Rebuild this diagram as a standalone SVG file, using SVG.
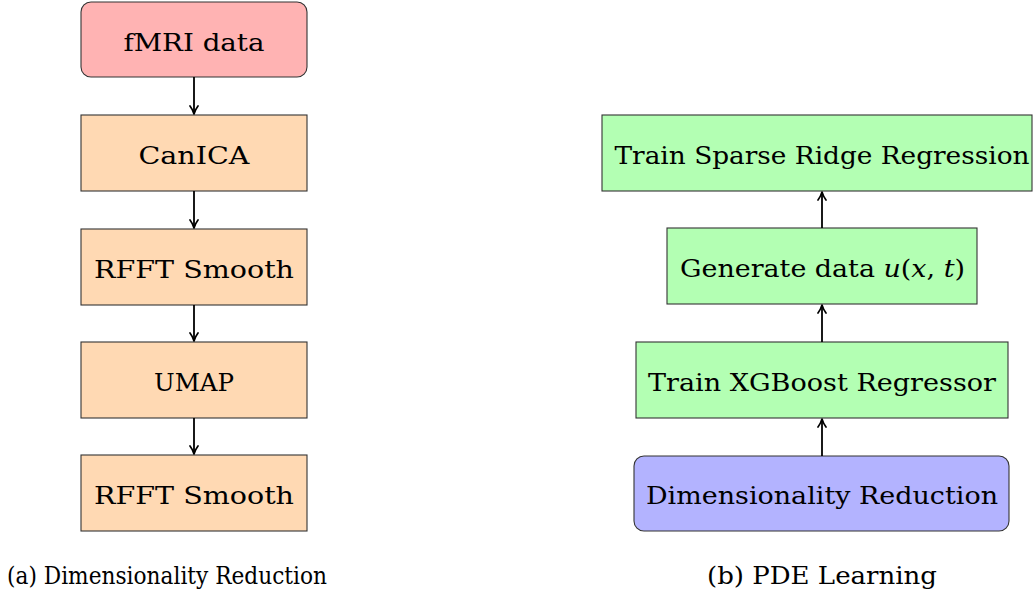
<svg xmlns="http://www.w3.org/2000/svg" width="1035" height="597" viewBox="0 0 1035 597">
<style>
text{font-family:'DejaVu Serif','Liberation Serif','Noto Serif',serif;font-size:24px;fill:#000}
.box{stroke:#333;stroke-width:1.1}
.red{fill:#FFB3B3}.org{fill:#FFD9B3}.grn{fill:#B3FFB3}.blu{fill:#B3B3FF}
.c line{stroke:#000;stroke-width:1.8;fill:none}
.m{font-style:italic}
</style>
<defs>
<marker id="ah" viewBox="0 0 10 10" refX="9" refY="5" markerWidth="10" markerHeight="10" markerUnits="userSpaceOnUse" orient="auto">
<path d="M1,1 Q5,4 9,5 Q5,6 1,9" fill="none" stroke="#000" stroke-width="1.7" stroke-linecap="round" stroke-linejoin="round"/>
</marker>
</defs>
<g id="fmri"><rect class="box red" x="81" y="2" width="226" height="75" rx="10"/><text x="194" y="51" text-anchor="middle" textLength="141" lengthAdjust="spacingAndGlyphs">fMRI data</text></g>
<g id="canica"><rect class="box org" x="81" y="115" width="226" height="76"/><text x="194" y="164" text-anchor="middle" textLength="111" lengthAdjust="spacingAndGlyphs">CanICA</text></g>
<g id="rfft1"><rect class="box org" x="81" y="229" width="226" height="76"/><text x="194" y="278" text-anchor="middle" textLength="200" lengthAdjust="spacingAndGlyphs">RFFT Smooth</text></g>
<g id="umap"><rect class="box org" x="81" y="342" width="226" height="76"/><text x="194" y="391" text-anchor="middle" textLength="80" lengthAdjust="spacingAndGlyphs">UMAP</text></g>
<g id="rfft2"><rect class="box org" x="81" y="455" width="226" height="76"/><text x="194" y="504" text-anchor="middle" textLength="200" lengthAdjust="spacingAndGlyphs">RFFT Smooth</text></g>
<g id="capA"><text x="7" y="584" textLength="320" lengthAdjust="spacingAndGlyphs">(a) Dimensionality Reduction</text></g>
<g id="sparse"><rect class="box grn" x="602" y="115" width="430" height="76"/><text x="822" y="164" text-anchor="middle" textLength="415" lengthAdjust="spacingAndGlyphs">Train Sparse Ridge Regression</text></g>
<g id="gen"><rect class="box grn" x="667" y="228" width="310" height="76"/><text x="680" y="277" textLength="285" lengthAdjust="spacingAndGlyphs">Generate data <tspan class="m">u</tspan>(<tspan class="m">x</tspan>, <tspan class="m">t</tspan>)</text></g>
<g id="xgb"><rect class="box grn" x="636" y="342" width="372" height="76"/><text x="822" y="391" text-anchor="middle" textLength="348" lengthAdjust="spacingAndGlyphs">Train XGBoost Regressor</text></g>
<g id="dimred"><rect class="box blu" x="634" y="456" width="375" height="75" rx="10"/><text x="822" y="504" text-anchor="middle" textLength="352" lengthAdjust="spacingAndGlyphs">Dimensionality Reduction</text></g>
<g id="capB"><text x="822" y="584" text-anchor="middle" textLength="230" lengthAdjust="spacingAndGlyphs">(b) PDE Learning</text></g>
<g class="c" id="connectors">
<line x1="194" y1="77" x2="194" y2="114" marker-end="url(#ah)"/>
<line x1="194" y1="191" x2="194" y2="228" marker-end="url(#ah)"/>
<line x1="194" y1="305" x2="194" y2="341" marker-end="url(#ah)"/>
<line x1="194" y1="418" x2="194" y2="454" marker-end="url(#ah)"/>
<line x1="822" y1="456" x2="822" y2="419" marker-end="url(#ah)"/>
<line x1="822" y1="342" x2="822" y2="305" marker-end="url(#ah)"/>
<line x1="822" y1="228" x2="822" y2="192" marker-end="url(#ah)"/>
</g>
</svg>
